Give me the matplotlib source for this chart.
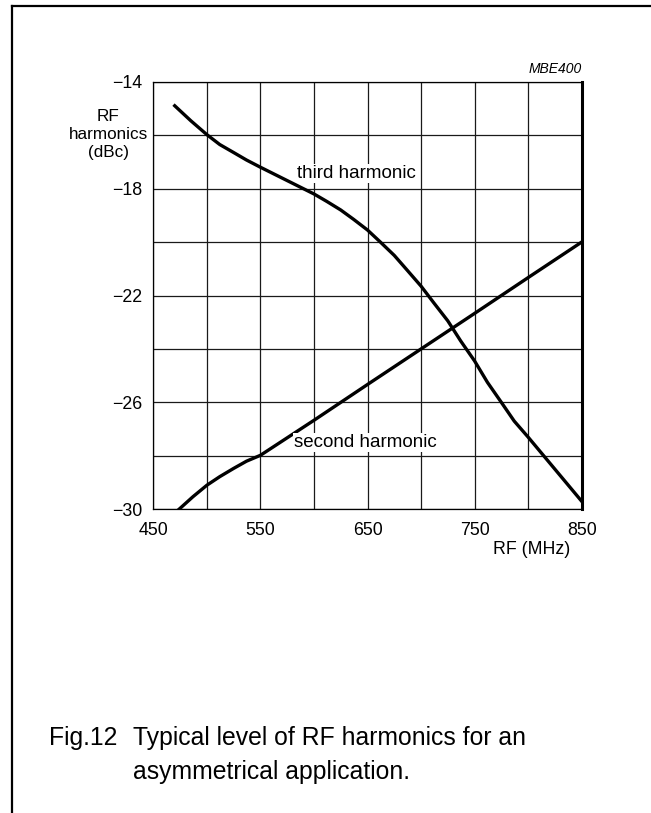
import matplotlib
matplotlib.use("Agg")
import matplotlib.pyplot as plt
from matplotlib.lines import Line2D

plt.rcParams['font.family'] = ['Liberation Sans', 'DejaVu Sans']

# ---- data ----
third_x = [470, 485, 500, 512, 525, 537, 550, 575, 600, 612, 625, 637, 650, 662, 675, 687,
           700, 712, 725, 737, 750, 762, 775, 787, 800, 825, 850]
third_y = [-14.9, -15.46, -15.98, -16.35, -16.65, -16.93, -17.2, -17.7, -18.2, -18.48, -18.8,
           -19.15, -19.55, -20.0, -20.5, -21.05, -21.65, -22.28, -22.95, -23.7, -24.45,
           -25.25, -26.0, -26.7, -27.3, -28.5, -29.7]

second_x = [474, 487, 500, 512, 525, 537, 550, 600, 650, 700, 750, 800, 850]
second_y = [-30.0, -29.53, -29.1, -28.78, -28.47, -28.2, -27.98, -26.67, -25.33, -24.0,
            -22.67, -21.33, -20.0]

xticks = [450, 550, 650, 750, 850]
xtick_labels = ['450', '550', '650', '750', '850']
yticks = [-30, -26, -22, -18, -14]
ytick_labels = ['\u221230', '\u221226', '\u221222', '\u221218', '\u221214']
xgrid = [500, 600, 700, 800]
ygrid = [-28, -24, -20, -16]

W, H = 651, 813
fig = plt.figure(figsize=(W / 100, H / 100), dpi=100)

ax = fig.add_axes([153.3 / W, 1 - 509.3 / H, 428.4 / W, 427.6 / H])
ax.set_xlim(450, 850)
ax.set_ylim(-30, -14)

ax.set_xticks(xticks)
ax.set_xticklabels(xtick_labels)
ax.set_yticks(yticks)
ax.set_yticklabels(ytick_labels)
ax.set_xticks(xgrid, minor=True)
ax.set_yticks(ygrid, minor=True)
ax.grid(True, which='both', color='#1a1a1a', linewidth=0.9)
ax.tick_params(which='both', length=0)
ax.tick_params(axis='x', pad=9, labelsize=12.8)
ax.tick_params(axis='y', pad=8, labelsize=12.8)

for side in ['left', 'bottom', 'top']:
    ax.spines[side].set_linewidth(0.9)
ax.spines['right'].set_linewidth(2.2)

ax.plot(third_x, third_y, color='black', linewidth=2.4, solid_joinstyle='round')
ax.plot(second_x, second_y, color='black', linewidth=2.4, solid_joinstyle='round')

ax.text(640, -17.43, 'third harmonic', ha='center', va='center', fontsize=13.5,
        bbox=dict(facecolor='white', edgecolor='none', pad=0.5))
ax.text(647.6, -27.5, 'second harmonic', ha='center', va='center', fontsize=13.5,
        bbox=dict(facecolor='white', edgecolor='none', pad=0.5))

ax.text(0.973, -0.095, 'RF (MHz)', transform=ax.transAxes, ha='right', va='center',
        fontsize=12.8)
ax.text(-0.1057, 0.877, 'RF\nharmonics\n(dBc)', transform=ax.transAxes, ha='center',
        va='center', multialignment='center', fontsize=12.3, linespacing=1.25)

ax.text(1.0, 1.021, 'MBE400', transform=ax.transAxes, ha='right', va='baseline',
        fontsize=10, style='italic')

# caption
fig.text(49 / W, 1 - 745 / H, 'Fig.12', ha='left', va='baseline', fontsize=17.8)
fig.text(133 / W, 1 - 745 / H, 'Typical level of RF harmonics for an',
         ha='left', va='baseline', fontsize=17.8)
fig.text(133 / W, 1 - 779 / H, 'asymmetrical application.',
         ha='left', va='baseline', fontsize=17.8)

# frame
fig.add_artist(Line2D([11.7 / W, 1.0], [1 - 6 / H, 1 - 6 / H], transform=fig.transFigure,
                      color='black', linewidth=1.6))
fig.add_artist(Line2D([11.7 / W, 11.7 / W], [1 - 6 / H, 0.0], transform=fig.transFigure,
                      color='black', linewidth=1.6))

fig.savefig('out.png', dpi=100)
